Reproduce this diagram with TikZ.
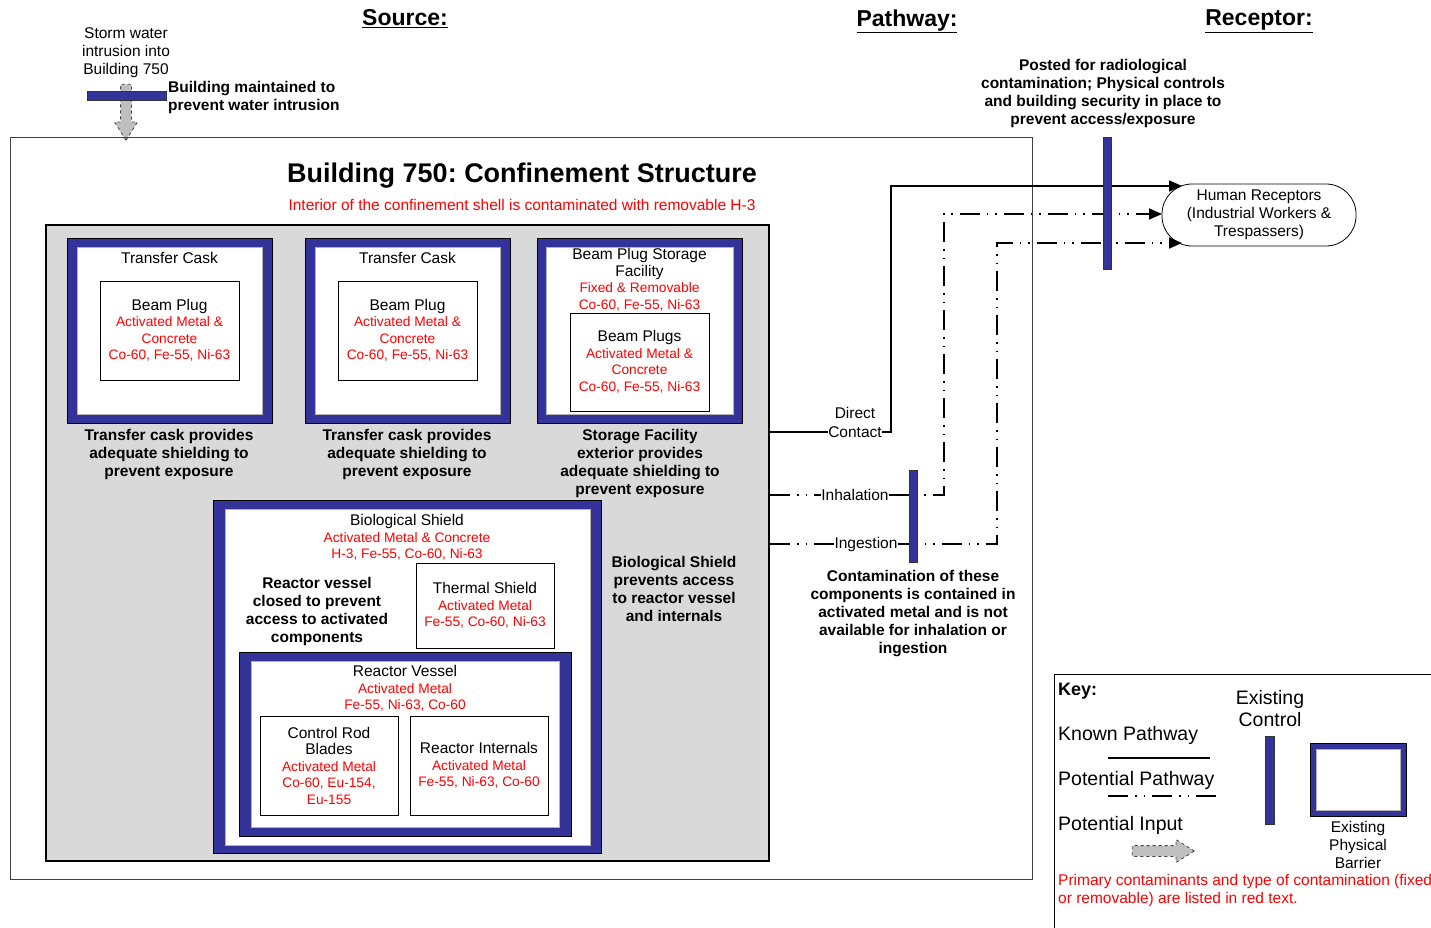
\documentclass[tikz,border=0pt]{standalone}
\usepackage{fontspec}
\setmainfont{Liberation Sans}
\usetikzlibrary{arrows.meta,shapes.arrows}
\definecolor{barblue}{RGB}{51,51,153}
\newcommand{\contam}[1]{{\color{red}\fontsize{13.75}{16}\selectfont #1}}
\frenchspacing

\begin{document}
\begin{tikzpicture}[x=1pt, y=-1pt, >={Triangle[length=13pt,width=11pt]},
    txt/.style={align=center, inner sep=0pt, font=\fontsize{15.5}{18}\selectfont},
    boxtxt/.style={align=center, inner sep=0pt, font=\fontsize{15.5}{16.5}\selectfont},
    note/.style={align=center, inner sep=0pt, font=\bfseries\fontsize{15.5}{18}\selectfont},
    keytxt/.style={inner sep=0pt, font=\fontsize{19.5}{22}\selectfont},
    head/.style={inner sep=0pt, font=\bfseries\fontsize{23}{26}\selectfont},
    wall/.style={draw=black, fill=barblue, line width=0.8pt},
    liner/.style={draw=gray!60, fill=white, line width=0.8pt},
    comp/.style={draw=black, fill=white, line width=0.8pt, align=center, inner sep=0pt, font=\fontsize{15.5}{16.5}\selectfont},
    control/.style={draw=black!80, fill=barblue, line width=0.6pt, inner sep=0pt},
    known/.style={line width=1.6pt},
    potential/.style={line width=1.6pt, dash pattern=on 20pt off 7pt on 1.5pt off 7pt on 1.5pt off 7pt},
    input/.style={single arrow, draw=black!75, dashed, fill=black!25, line width=0.8pt, inner sep=5pt, single arrow head extend=6pt, single arrow tip angle=64, minimum width=22pt} ]
    \useasboundingbox (0,0) rectangle (1431,927);

    % Headings
    \node[head, anchor=north] (src) at (405,9.5) {\underline{Source:}};
    \node[head, anchor=north] (pth) at (907,9.5) {\underline{Pathway:}};
    \node[head, anchor=north] (rcp) at (1259,9.5) {\underline{Receptor:}};

    % Storm water input
    \node[txt, anchor=north] (storm) at (126,27) {Storm water\\intrusion into\\Building 750};
    \node[input, minimum height=56pt, rotate=-90] (stormin) at (126,108) {};
    \node[control, minimum width=79pt, minimum height=9pt] (ctrlW) at (126.5,95.5) {};
    \node[note, anchor=north west, align=left] (ctrlWtxt) at (168,81) {Building maintained to\\prevent water intrusion};

    % Building 750
    \draw[draw=gray!50!black, line width=1pt] (10,137) rectangle (1032,879);
    \node[inner sep=0pt, font=\bfseries\fontsize{27}{30}\selectfont, anchor=north] (title) at (522,163) {Building 750: Confinement Structure};
    \node[inner sep=0pt, text=red, font=\fontsize{15.5}{18}\selectfont, anchor=north] (sub) at (522,199.5) {Interior of the confinement shell is contaminated with removable H-3};
    \node[draw=black, fill=black!15, line width=2pt, minimum width=723pt, minimum height=636pt, inner sep=0pt] (shell) at (407.5,543) {};

    % --- Transfer casks ---
    \draw[wall] (67,238) rectangle (272,423);
    \draw[liner] (77,247) rectangle (262,414);
    \node[boxtxt, anchor=north] (caskA) at (169.5,252.5) {Transfer Cask};
    \node[comp, minimum width=139pt, minimum height=99pt] (plugA) at (169.5,330.5) {Beam Plug\\\contam{Activated Metal \&}\\\contam{Concrete}\\\contam{Co-60, Fe-55, Ni-63}};
    \node[note, anchor=north] (caskAtxt) at (169,429) {Transfer cask provides\\adequate shielding to\\prevent exposure};

    \draw[wall] (305,238) rectangle (510,423);
    \draw[liner] (315,247) rectangle (500,414);
    \node[boxtxt, anchor=north] (caskB) at (407.5,252.5) {Transfer Cask};
    \node[comp, minimum width=139pt, minimum height=99pt] (plugB) at (407.5,330.5) {Beam Plug\\\contam{Activated Metal \&}\\\contam{Concrete}\\\contam{Co-60, Fe-55, Ni-63}};
    \node[note, anchor=north] (caskBtxt) at (407,429) {Transfer cask provides\\adequate shielding to\\prevent exposure};

    % --- Beam plug storage ---
    \draw[wall] (537,238) rectangle (742,423);
    \draw[liner] (546,247) rectangle (733,414);
    \node[boxtxt, anchor=north] (stor) at (639.5,248.5) {Beam Plug Storage\\Facility\\\contam{Fixed \& Removable}\\\contam{Co-60, Fe-55, Ni-63}};
    \node[comp, minimum width=139pt, minimum height=98pt] (plugs) at (639.5,362) {Beam Plugs\\\contam{Activated Metal \&}\\\contam{Concrete}\\\contam{Co-60, Fe-55, Ni-63}};
    \node[note, anchor=north] (stortxt) at (640,429) {Storage Facility\\exterior provides\\adequate shielding to\\prevent exposure};

    % --- Biological shield ---
    \draw[wall] (213,500) rectangle (601,853);
    \draw[liner] (225,509) rectangle (590,845);
    \node[boxtxt, anchor=north] (bio) at (407,514.5) {Biological Shield\\\contam{Activated Metal \& Concrete}\\\contam{H-3, Fe-55, Co-60, Ni-63}};
    \node[note, anchor=north] (biotxt) at (317,577) {Reactor vessel\\closed to prevent\\access to activated\\components};
    \node[comp, minimum width=138pt, minimum height=85pt] (therm) at (485,605.5) {Thermal Shield\\\contam{Activated Metal}\\\contam{Fe-55, Co-60, Ni-63}};
    \node[note, anchor=north] (biocap) at (674,556) {Biological Shield\\prevents access\\to reactor vessel\\and internals};

    % Reactor vessel
    \draw[wall] (239,652) rectangle (571,836);
    \draw[liner] (251,661) rectangle (559,827);
    \node[boxtxt, anchor=north] (rv) at (405,665.5) {Reactor Vessel\\\contam{Activated Metal}\\\contam{Fe-55, Ni-63, Co-60}};
    \node[comp, minimum width=138pt, minimum height=99pt] (crb) at (329,765.5) {Control Rod\\Blades\\\contam{Activated Metal}\\\contam{Co-60, Eu-154,}\\\contam{Eu-155}};
    \node[comp, minimum width=138pt, minimum height=99pt] (rint) at (479,765.5) {Reactor Internals\\\contam{Activated Metal}\\\contam{Fe-55, Ni-63, Co-60}};

    % --- Receptor ---
    \node[draw, txt, rounded corners=30pt, line width=0.8pt, minimum width=194pt, minimum height=62pt] (hr) at (1259,215) {Human Receptors\\(Industrial Workers \&\\Trespassers)};
    \coordinate (hrA) at (1182,186);
    \coordinate (hrB) at (1162,214);
    \coordinate (hrC) at (1182,243);
    \coordinate (dcUp) at (891,186);
    \coordinate (inhUp) at (944,214);
    \coordinate (ingUp) at (997,243);

    % --- Pathways ---
    \node[txt, fill=white] (dc) at (855,432) {Contact};
    \node[txt] (dcl) at (855,413) {Direct};
    \draw[known] (shell.east |- dc) -- (dc.west);
    \draw[known, ->] (dc.east) -| (dcUp) -- (hrA);

    \node[txt, fill=white] (inh) at (855,495) {Inhalation};
    \draw[potential] (shell.east |- inh) -- (inh.west);
    \draw[potential, ->] (inh.east) -| (inhUp) -- (hrB);

    \node[txt, fill=white] (ing) at (866,544) {Ingestion};
    \draw[potential] (shell.east |- ing) -- (ing.west);
    \draw[potential, ->] (ing.east) -| (ingUp) -- (hrC);

    % --- Existing controls ---
    \node[control, minimum width=8pt, minimum height=132pt] (ctrlA) at (1107,203) {};
    \node[note, anchor=north] (ctrlAtxt) at (1103,59) {Posted for radiological\\contamination; Physical controls\\and building security in place to\\prevent access/exposure};
    \node[control, minimum width=8pt, minimum height=92pt] (ctrlB) at (913,516) {};
    \node[note, anchor=north] (ctrlBtxt) at (913,570) {Contamination of these\\components is contained in\\activated metal and is not\\available for inhalation or\\ingestion};

    % Key
    \draw[draw=black, line width=0.8pt] (1054,674) rectangle (1445,940);
    \node[inner sep=0pt, font=\bfseries\fontsize{18}{22}\selectfont, anchor=base west] (key) at (1058,695) {Key:};
    \node[keytxt, anchor=base west] (keyk) at (1058,740) {Known Pathway};
    \draw[known] (1108,758) -- (1210,758);
    \node[keytxt, anchor=base west] (keyp) at (1058,785) {Potential Pathway};
    \draw[potential] (1108,796) -- (1216,796);
    \node[keytxt, anchor=base west] (keyi) at (1058,830) {Potential Input};
    \node[input, minimum height=62pt] (keyin) at (1159,851) {};
    \node[keytxt, align=center, anchor=north] (keyc) at (1270,690) {Existing\\Control};
    \node[control, minimum width=9pt, minimum height=88pt] (keyctrl) at (1269.5,780) {};
    \draw[wall] (1310,743) rectangle (1406,816);
    \draw[liner] (1316,749) rectangle (1400,810);
    \node[txt, anchor=north] (keywall) at (1358,821.5) {Existing\\Physical\\Barrier};
    \node[txt, text=red, anchor=north west, align=left] (keynote) at (1058,874.5) {Primary contaminants and type of contamination (fixed\\or removable) are listed in red text.};
\end{tikzpicture}
\end{document}
